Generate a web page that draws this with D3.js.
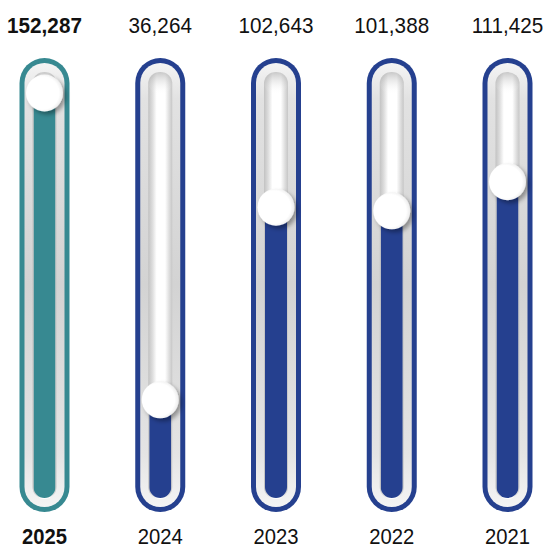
<!DOCTYPE html>
<html>
<head>
<meta charset="utf-8">
<script src="https://cdn.jsdelivr.net/npm/d3@7"></script>
<style>
  html, body { margin: 0; padding: 0; background: #ffffff; }
  svg { display: block; font-family: "Liberation Sans", Arial, sans-serif; }
</style>
</head>
<body>
<svg id="chart" width="550" height="549"></svg>
<script>
// Yearly totals shown as slider gauges
const years  = ["2025", "2024", "2023", "2022", "2021"];
const values = [152287, 36264, 102643, 101388, 111425];
const highlightYear = "2025";

const colors = { highlight: "#378991", normal: "#25408f" };

const svg = d3.select("#chart");

// geometry of a slider
const outerTop = 58, outerBottom = 512, outerHalf = 25;
const ring = 5;
const grooveHalf = 12, grooveTop = 72, grooveBottom = 498;
const fillHalf = 11;
const knobR = 18.5;

const x = d3.scalePoint().domain(years).range([44.5, 507.5]);
const y = d3.scaleLinear().domain([0, 142000]).range([505, 93]).clamp(true);

const defs = svg.append("defs");

// band between ring and groove
const bandGrad = defs.append("linearGradient")
  .attr("id", "band").attr("x1", 0).attr("y1", 0).attr("x2", 0).attr("y2", 1);
[[0, "#f4f4f4"], [0.08, "#e2e2e2"], [0.5, "#d3d3d3"], [0.88, "#e4e4e4"], [1, "#f4f4f4"]]
  .forEach(([o, c]) => bandGrad.append("stop").attr("offset", o).attr("stop-color", c));

// cylindrical shading of the groove
const grooveGrad = defs.append("linearGradient")
  .attr("id", "groove").attr("x1", 0).attr("y1", 0).attr("x2", 1).attr("y2", 0);
[[0, "#c2c2c2"], [0.18, "#dedede"], [0.35, "#ffffff"], [0.7, "#ffffff"], [0.85, "#e2e2e2"], [1, "#c6c6c6"]]
  .forEach(([o, c]) => grooveGrad.append("stop").attr("offset", o).attr("stop-color", c));

const grooveTopGrad = defs.append("linearGradient")
  .attr("id", "grooveTop").attr("x1", 0).attr("y1", 0).attr("x2", 0).attr("y2", 1);
[[0, "#9a9a9a", 0.55], [1, "#ffffff", 0]]
  .forEach(([o, c, a]) => grooveTopGrad.append("stop").attr("offset", o).attr("stop-color", c).attr("stop-opacity", a));

const knobGrad = defs.append("radialGradient")
  .attr("id", "knob").attr("cx", 0.45).attr("cy", 0.5).attr("r", 0.55);
[[0, "#ffffff"], [0.8, "#ffffff"], [1, "#ececec"]]
  .forEach(([o, c]) => knobGrad.append("stop").attr("offset", o).attr("stop-color", c));

const shadow = defs.append("filter").attr("id", "knobShadow")
  .attr("x", "-50%").attr("y", "-50%").attr("width", "200%").attr("height", "200%");
shadow.append("feDropShadow").attr("dx", 3).attr("dy", 3).attr("stdDeviation", 2)
  .attr("flood-color", "#000").attr("flood-opacity", 0.35);

const data = years.map((yr, i) => ({ year: yr, value: values[i] }));

data.forEach((d, i) => {
  const clip = defs.append("clipPath").attr("id", "clip" + i);
  clip.append("rect")
    .attr("x", x(d.year) - fillHalf).attr("y", grooveTop)
    .attr("width", fillHalf * 2).attr("height", grooveBottom - grooveTop)
    .attr("rx", fillHalf);
});

const g = svg.selectAll("g.slider").data(data).join("g")
  .attr("class", "slider")
  .attr("transform", d => `translate(${x(d.year)},0)`);

const col = d => d.year === highlightYear ? colors.highlight : colors.normal;

// outer ring
g.append("rect")
  .attr("x", -outerHalf).attr("y", outerTop)
  .attr("width", outerHalf * 2).attr("height", outerBottom - outerTop)
  .attr("rx", outerHalf).attr("fill", col);

// inner band
g.append("rect")
  .attr("x", -outerHalf + ring).attr("y", outerTop + ring)
  .attr("width", (outerHalf - ring) * 2).attr("height", outerBottom - outerTop - ring * 2)
  .attr("rx", outerHalf - ring).attr("fill", "url(#band)");

// groove
g.append("rect")
  .attr("x", -grooveHalf).attr("y", grooveTop)
  .attr("width", grooveHalf * 2).attr("height", grooveBottom - grooveTop + 1)
  .attr("rx", grooveHalf).attr("fill", "url(#groove)");
g.append("rect")
  .attr("x", -grooveHalf).attr("y", grooveTop)
  .attr("width", grooveHalf * 2).attr("height", 22)
  .attr("rx", grooveHalf).attr("fill", "url(#grooveTop)");

// value fill, from the bottom of the groove up to the knob
g.append("rect")
  .attr("clip-path", (d, i) => `url(#clip${i})`)
  .attr("transform", d => `translate(${-x(d.year)},0)`)
  .attr("x", d => x(d.year) - fillHalf)
  .attr("y", d => y(d.value))
  .attr("width", fillHalf * 2)
  .attr("height", d => grooveBottom - y(d.value))
  .attr("fill", col);

// knob
const knobY = d => Math.max(y(d.value), outerTop + ring + knobR + 10);
g.append("circle")
  .attr("cx", 0).attr("cy", knobY)
  .attr("r", knobR)
  .attr("fill", "url(#knob)")
  .attr("filter", "url(#knobShadow)");

// value labels (slightly condensed)
const fmt = d3.format(",");
g.append("text")
  .attr("transform", "translate(0,33) scale(0.92,1)")
  .attr("text-anchor", "middle")
  .attr("font-size", 22.5)
  .attr("font-weight", d => d.year === highlightYear ? "bold" : "normal")
  .attr("fill", "#111")
  .text(d => fmt(d.value));

// year labels
g.append("text")
  .attr("transform", "translate(0,544) scale(0.92,1)")
  .attr("text-anchor", "middle")
  .attr("font-size", 22)
  .attr("font-weight", d => d.year === highlightYear ? "bold" : "normal")
  .attr("fill", "#111")
  .text(d => d.year);
</script>
</body>
</html>
